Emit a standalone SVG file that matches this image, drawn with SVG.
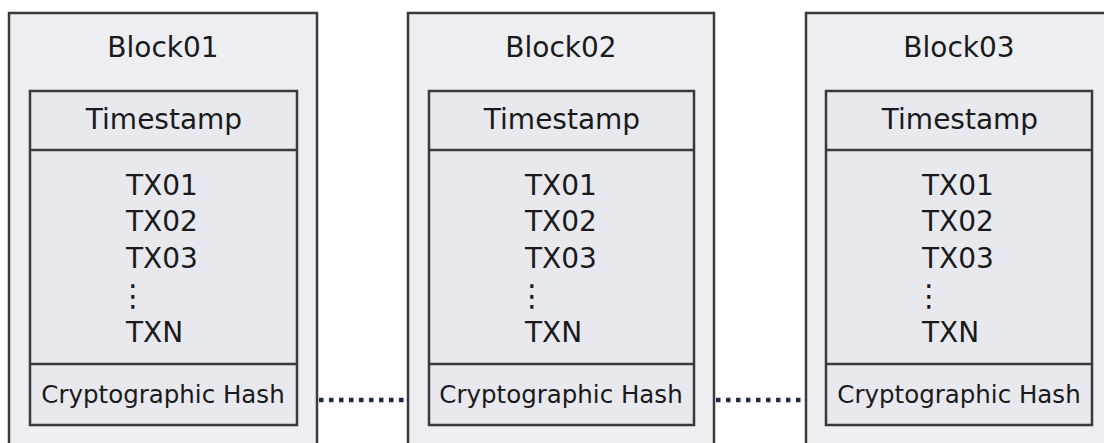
<svg xmlns="http://www.w3.org/2000/svg" width="1104" height="443" viewBox="0 0 1104 443">
<style>
.outer{fill:#eceef2;stroke:#3a3a3a;stroke-width:2.5}
.inner{fill:#e7e9ee;stroke:#3a3a3a;stroke-width:2.5}
.sep{stroke:#3a3a3a;stroke-width:2.5}
text{font-family:"DejaVu Sans",Verdana,sans-serif;fill:#1a1a1a}
.t{font-size:28px;text-anchor:middle}
.tx{font-size:28px}
.d{font-size:30px;text-anchor:middle}
.h{font-size:24.5px;text-anchor:middle}
.conn{stroke:#1f2a48;stroke-width:4.5;stroke-dasharray:4.5 5.5;fill:none}
</style>
<rect width="1104" height="443" fill="#ffffff"/>
<g id="block01">
<rect class="outer" x="9" y="13" width="308" height="440"/>
<text class="t" x="163" y="57">Block01</text>
<rect class="inner" x="30" y="91" width="267" height="334"/>
<line class="sep" x1="30" y1="150" x2="297" y2="150"/>
<line class="sep" x1="30" y1="364" x2="297" y2="364"/>
<text class="t" x="164" y="129">Timestamp</text>
<text class="tx" x="126" y="195">TX01</text>
<text class="tx" x="126" y="231">TX02</text>
<text class="tx" x="126" y="268">TX03</text>
<text class="d" x="133" y="306">⋮</text>
<text class="tx" x="126" y="342">TXN</text>
<text class="h" x="163" y="403">Cryptographic Hash</text>
</g>
<g id="block02">
<rect class="outer" x="408" y="13" width="306" height="440"/>
<text class="t" x="561" y="57">Block02</text>
<rect class="inner" x="429" y="91" width="265" height="334"/>
<line class="sep" x1="429" y1="150" x2="694" y2="150"/>
<line class="sep" x1="429" y1="364" x2="694" y2="364"/>
<text class="t" x="562" y="129">Timestamp</text>
<text class="tx" x="525" y="195">TX01</text>
<text class="tx" x="525" y="231">TX02</text>
<text class="tx" x="525" y="268">TX03</text>
<text class="d" x="532" y="306">⋮</text>
<text class="tx" x="525" y="342">TXN</text>
<text class="h" x="561" y="403">Cryptographic Hash</text>
</g>
<g id="block03">
<rect class="outer" x="806" y="13" width="310" height="440"/>
<text class="t" x="959" y="57">Block03</text>
<rect class="inner" x="826" y="91" width="266" height="334"/>
<line class="sep" x1="826" y1="150" x2="1092" y2="150"/>
<line class="sep" x1="826" y1="364" x2="1092" y2="364"/>
<text class="t" x="960" y="129">Timestamp</text>
<text class="tx" x="922" y="195">TX01</text>
<text class="tx" x="922" y="231">TX02</text>
<text class="tx" x="922" y="268">TX03</text>
<text class="d" x="929" y="306">⋮</text>
<text class="tx" x="922" y="342">TXN</text>
<text class="h" x="959" y="403">Cryptographic Hash</text>
</g>
<g id="connectors">
<line class="conn" x1="319" y1="400" x2="407" y2="400"/>
<line class="conn" x1="716" y1="400" x2="805" y2="400"/>
</g>
</svg>
